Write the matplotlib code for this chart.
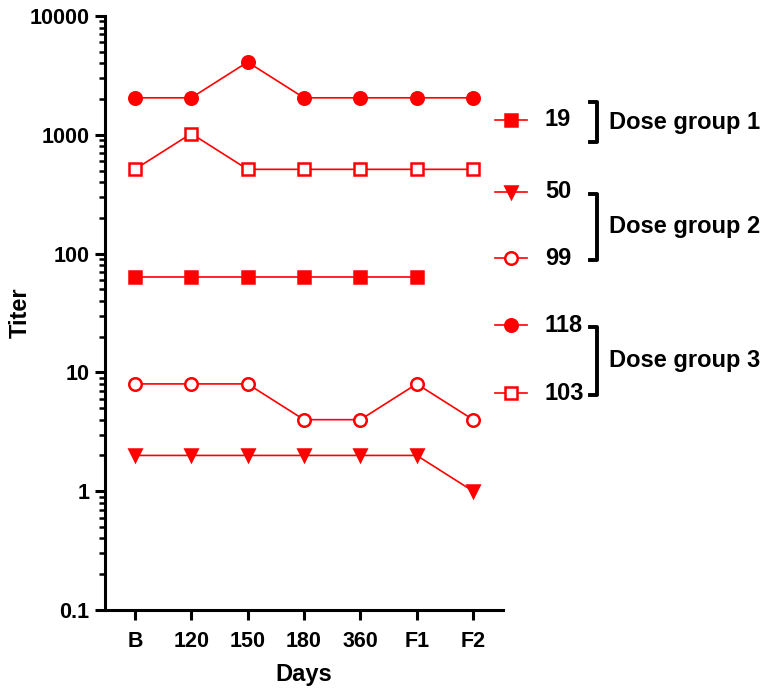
import matplotlib.pyplot as plt
from matplotlib.lines import Line2D
from matplotlib.ticker import LogLocator, NullFormatter, FixedLocator, FixedFormatter

plt.rcParams['font.family'] = ['Liberation Sans', 'DejaVu Sans']
plt.rcParams['font.weight'] = 'bold'

days = ['B', '120', '150', '180', '360', 'F1', 'F2']

# titers per subject
s19 = [64, 64, 64, 64, 64, 64, None]
s50 = [2, 2, 2, 2, 2, 2, 1]
s99 = [8, 8, 8, 4, 4, 8, 4]
s118 = [2048, 2048, 4096, 2048, 2048, 2048, 2048]
s103 = [512, 1024, 512, 512, 512, 512, 512]

series = [
    ('19', s19, 's', 'red'),
    ('50', s50, 'v', 'red'),
    ('99', s99, 'o', 'white'),
    ('118', s118, 'o', 'red'),
    ('103', s103, 's', 'white'),
]
groups = [('Dose group 1', ['19']), ('Dose group 2', ['50', '99']),
          ('Dose group 3', ['118', '103'])]

red = '#ff0000'

fig = plt.figure(figsize=(7.68, 6.9), dpi=100)
ax = fig.add_axes([105 / 768, 80 / 690, 398 / 768, 594 / 690])

for name, vals, m, fc in series:
    xs = [i for i, v in enumerate(vals) if v is not None]
    ys = [v for v in vals if v is not None]
    ax.plot(xs, ys, color=red, lw=1.2, marker=m, markersize=9,
            markerfacecolor=red if fc == 'red' else 'white',
            markeredgecolor=red, markeredgewidth=1.8)

ax.set_yscale('log')
ax.set_ylim(0.1, 10000)
ax.set_xlim(-0.53, 6.53)
ax.yaxis.set_major_locator(FixedLocator([0.1, 1, 10, 100, 1000, 10000]))
ax.yaxis.set_major_formatter(FixedFormatter(['0.1', '1', '10', '100', '1000', '10000']))
ax.yaxis.set_minor_locator(LogLocator(base=10, subs=range(2, 10)))
ax.yaxis.set_minor_formatter(NullFormatter())
ax.set_xticks(range(len(days)))
ax.set_xticklabels(days)

for sp in ['top', 'right']:
    ax.spines[sp].set_visible(False)
for sp in ['left', 'bottom']:
    ax.spines[sp].set_linewidth(2.2)
ax.tick_params(axis='both', which='major', width=2.2, length=7, labelsize=15.5, pad=4)
ax.tick_params(axis='x', which='major', pad=8)
ax.tick_params(axis='y', which='minor', width=1.8, length=4)
ax.set_xlabel('Days', fontsize=17, fontweight='bold')
ax.set_ylabel('Titer', fontsize=17, fontweight='bold')
ax.xaxis.set_label_coords(0.5, -0.089)
ax.yaxis.set_label_coords(-0.185, 0.5)

# legend drawn by hand on the right
W, H = 768, 690
rows = {'19': 120, '50': 192, '99': 258, '118': 325, '103': 393}
for name, vals, m, fc in series:
    y = 1 - rows[name] / H
    fig.add_artist(Line2D([495 / W, 527 / W], [y, y], color=red, lw=1.2))
    fig.add_artist(Line2D([511 / W], [y], marker=m, markersize=9, color=red,
                          markerfacecolor=red if fc == 'red' else 'white',
                          markeredgecolor=red, markeredgewidth=1.8))
    fig.text(545 / W, y, name, fontsize=17, fontweight='bold', va='center', ha='left')

for label, members in groups:
    if len(members) > 1:
        y0 = rows[members[0]] + 2
        y1 = rows[members[-1]] + 2
    else:
        y0 = rows[members[0]] - 18
        y1 = rows[members[0]] + 22
    xb = 597 / W
    fig.add_artist(Line2D([590 / W, xb, xb, 590 / W],
                          [1 - y0 / H, 1 - y0 / H, 1 - y1 / H, 1 - y1 / H],
                          color='black', lw=2.8))
    fig.text(609 / W, 1 - (y0 + y1) / 2 / H, label, fontsize=17,
             fontweight='bold', va='center', ha='left')

fig.savefig('out.png', dpi=100)
